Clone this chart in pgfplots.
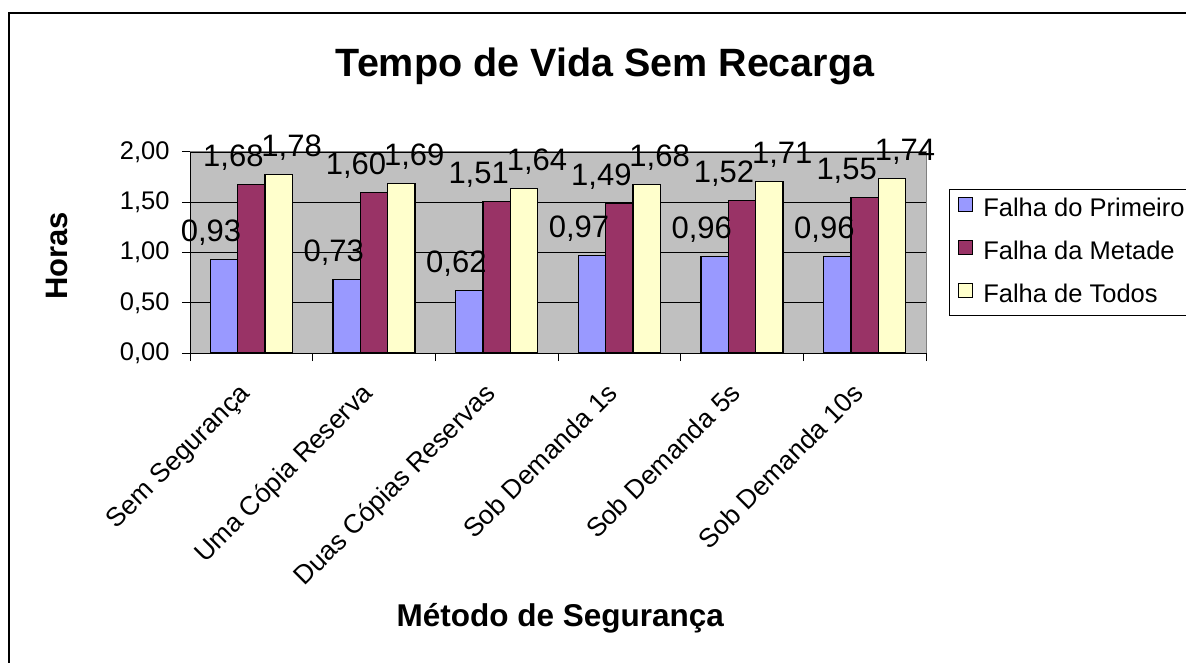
\documentclass[border=0pt]{standalone}
\usepackage{pgfplots}
\pgfplotsset{compat=1.18}
\usepackage{fontspec}
\setmainfont{Liberation Sans}
\definecolor{barblue}{HTML}{9999FF}
\definecolor{barmaroon}{HTML}{993366}
\definecolor{baryellow}{HTML}{FFFFCC}
\definecolor{plotgray}{HTML}{C0C0C0}
\definecolor{bordergray}{HTML}{808080}
\newcommand{\fs}[1]{\fontsize{#1}{#1}\selectfont}
\begin{document}
\begin{tikzpicture}
\useasboundingbox (0,0) rectangle (1186bp,663bp);
\fill[white] (0,0) rectangle (1186bp,663bp);
\draw[line width=2bp] (9bp,-20bp) rectangle (1220bp,650bp);
\begin{axis}[
  at={(190bp,310bp)}, anchor=south west,
  scale only axis, width=736bp, height=201bp,
  clip=false,
  ybar, bar width=27.3bp,
  xmin=-0.5, xmax=5.5,
  ymin=0, ymax=2,
  ytick={0,0.5,1,1.5,2},
  xtick={-0.5,0.5,1.5,2.5,3.5,4.5,5.5},
  x tick label as interval,
  xticklabels={Sem Segurança,Uma Cópia Reserva,Duas Cópias Reservas,Sob Demanda 1s,Sob Demanda 5s,Sob Demanda 10s},
  axis lines=left,
  axis line style={-, black, line width=1bp},
  axis background/.style={fill=plotgray, draw=bordergray, line width=1bp},
  tick align=outside,
  major tick length=8bp,
  tick style={black, line width=1bp},
  ymajorgrids,
  grid style={black, line width=0.8bp},
  /pgf/number format/.cd, use comma, fixed, fixed zerofill, precision=2, assume math mode=true,
  /pgfplots/.cd,
  yticklabel style={font=\fs{25.5bp}, xshift=-9bp},
  xticklabel style={font=\fs{26.5bp}, yshift=-34bp, rotate=45, anchor=base east, inner sep=0pt},
  title={\bfseries Tempo de Vida Sem Recarga},
  title style={at={(axis description cs:0.564,1.345)}, anchor=base, font=\fs{39.5bp}},
  xlabel={\bfseries Método de Segurança},
  xlabel style={at={(axis description cs:0.503,-1.363)}, anchor=base, font=\fs{31.5bp}},
  ylabel={\bfseries Horas},
  ylabel style={at={(axis description cs:-0.1658,0.4826)}, anchor=base, font=\fs{31bp}},
  nodes near coords={\pgfmathprintnumber{\pgfplotspointmeta}},
  every node near coord/.append style={font=\fs{31bp}, anchor=base, inner sep=0pt, yshift=18bp, black},
  legend style={at={(axis description cs:1.031,0.816)}, anchor=north west,
    draw=black, line width=1bp, fill=white, font=\fs{25.5bp},
    inner xsep=9bp, inner ysep=8bp, row sep=19bp,
    nodes={inner sep=0pt, text height=18bp, text depth=5bp},
    /tikz/every odd column/.append style={column sep=10bp}},
  legend cell align=left,
  legend image code/.code={\draw[#1,draw=black,line width=1bp] (0bp,-2bp) rectangle (14bp,12bp);},
]
\addplot[fill=barblue, draw=black, line width=1.2bp, bar shift=-27.3bp,
  every node near coord/.append style={xshift=-13bp}]
  coordinates {(0,0.93) (1,0.73) (2,0.62) (3,0.97) (4,0.96) (5,0.96)};
\addplot[fill=barmaroon, draw=black, line width=1.2bp, bar shift=0bp,
  every node near coord/.append style={xshift=-18bp}]
  coordinates {(0,1.68) (1,1.60) (2,1.51) (3,1.49) (4,1.52) (5,1.55)};
\addplot[fill=baryellow, draw=black, line width=1.2bp, bar shift=27.3bp,
  every node near coord/.append style={xshift=13bp}]
  coordinates {(0,1.78) (1,1.69) (2,1.64) (3,1.68) (4,1.71) (5,1.74)};
\legend{Falha do Primeiro, Falha da Metade, Falha de Todos}
\end{axis}
\end{tikzpicture}
\end{document}
